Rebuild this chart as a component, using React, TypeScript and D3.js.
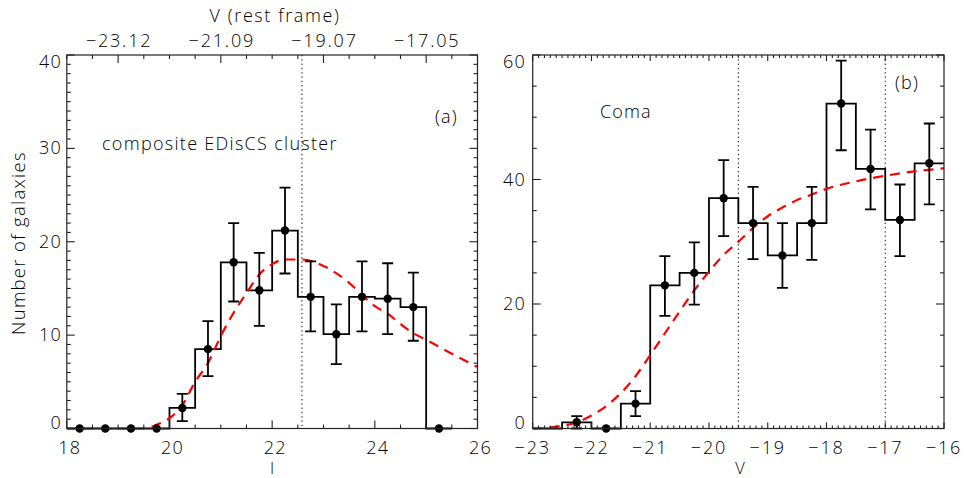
import React from "react";
import * as d3 from "d3";

// ---------- Panel (a): composite EDisCS cluster ----------
const binsA = [18.25, 18.75, 19.25, 19.75, 20.25, 20.75, 21.25, 21.75, 22.25, 22.75, 23.25, 23.75, 24.25, 24.75, 25.25];
const countsA = [0, 0, 0, 0, 2.2, 8.5, 17.8, 14.8, 21.2, 14.1, 10.1, 14.1, 13.9, 13.0, 0];
const errLoA = [0, 0, 0, 0, 0.8, 5.6, 13.6, 11.0, 16.6, 10.4, 6.9, 10.4, 10.1, 9.4, 0];
const errHiA = [0, 0, 0, 0, 3.7, 11.5, 22.0, 18.8, 25.8, 17.9, 13.3, 17.9, 17.7, 16.7, 0];
const fitXA = [18, 19.5, 19.75, 20.0, 20.25, 20.5, 20.75, 21.0, 21.25, 21.5, 21.75, 22.0, 22.25, 22.58, 23.0, 23.5, 23.75, 24.0, 24.25, 24.5, 24.75, 25.0, 25.5, 26.0];
const fitYA = [0, 0, 0.4, 1.1, 2.5, 5.0, 7.0, 9.9, 12.4, 14.5, 16.5, 17.6, 18.1, 18.1, 17.4, 15.6, 14.3, 13.1, 12.3, 11.2, 10.2, 9.5, 8.0, 6.6];
const xTicksA = [18, 20, 22, 24, 26];
const yTicksA = [0, 10, 20, 30, 40];
const topTickPosA = [19, 21, 23, 25];
const topTickLabelsA = ["\u221223.12", "\u221221.09", "\u221219.07", "\u221217.05"];
const vlineA = [22.58];

// ---------- Panel (b): Coma ----------
const binsB = [-22.75, -22.25, -21.75, -21.25, -20.75, -20.25, -19.75, -19.25, -18.75, -18.25, -17.75, -17.25, -16.75, -16.25];
const countsB = [0, 1.0, 0, 4.0, 23.0, 25.0, 37.0, 33.0, 27.8, 33.0, 52.2, 41.7, 33.5, 42.6];
const hasDotB = [false, true, true, true, true, true, true, true, true, true, true, true, true, true];
const errLoB = [0, 0, 0, 2.0, 18.1, 19.9, 30.9, 27.2, 22.6, 27.1, 44.7, 35.2, 27.7, 36.0];
const errHiB = [0, 2.0, 0, 6.0, 27.7, 29.9, 43.1, 38.8, 33.0, 38.8, 59.1, 48.0, 39.2, 49.0];
const fitXB = [-23, -22.6, -22.25, -22.0, -21.75, -21.5, -21.25, -21.0, -20.75, -20.5, -20.25, -20.0, -19.75, -19.5, -19.25, -19.0, -18.75, -18.5, -18.25, -18.0, -17.5, -17.0, -16.5, -16.0];
const fitYB = [0, 0.3, 1.0, 2.1, 3.6, 5.7, 8.4, 11.8, 15.3, 18.8, 22.2, 25.2, 27.9, 30.0, 32.2, 34.1, 35.5, 36.7, 37.6, 38.5, 39.7, 40.6, 41.3, 41.8];
const xTicksB = [-23, -22, -21, -20, -19, -18, -17, -16];
const yTicksB = [0, 20, 40, 60];
const vlineB = [-19.5, -17.0];

const FONT = "'Open Sans', 'DejaVu Sans', sans-serif";
const FW = 300;
const AX = "#222";

function stepPoints(centers: number[], vals: number[], w: number): [number, number][] {
  const pts: [number, number][] = [];
  centers.forEach((c, i) => {
    pts.push([c - w / 2, vals[i]]);
    pts.push([c + w / 2, vals[i]]);
  });
  return pts;
}

function range(a: number, b: number, s: number) {
  const out: number[] = [];
  const n = Math.round((b - a) / s);
  for (let i = 0; i <= n; i++) out.push(+(a + i * s).toFixed(6));
  return out;
}

export default function App() {
  const xA = d3.scaleLinear().domain([18, 26]).range([66.8, 477.5]);
  const yA = d3.scaleLinear().domain([0, 40]).range([428.5, 55]);
  const xB = d3.scaleLinear().domain([-23, -16]).range([532.7, 944]);
  const yB = d3.scaleLinear().domain([0, 60]).range([428.5, 55]);

  const lineA = d3.line<[number, number]>().x((d) => xA(d[0])).y((d) => yA(d[1]));
  const lineB = d3.line<[number, number]>().x((d) => xB(d[0])).y((d) => yB(d[1]));
  const fitLineA = d3.line<[number, number]>().x((d) => xA(d[0])).y((d) => yA(d[1])).curve(d3.curveMonotoneX);
  const fitLineB = d3.line<[number, number]>().x((d) => xB(d[0])).y((d) => yB(d[1])).curve(d3.curveMonotoneX);

  const histA = lineA(stepPoints(binsA, countsA, 0.5)) || "";
  const histB = lineB(stepPoints(binsB, countsB, 0.5)) || "";
  const fitA = fitLineA(fitXA.map((x, i) => [x, fitYA[i]] as [number, number])) || "";
  const fitB = fitLineB(fitXB.map((x, i) => [x, fitYB[i]] as [number, number])) || "";

  const tick = (x1: number, y1: number, x2: number, y2: number, k: string) => (
    <line key={k} x1={x1} y1={y1} x2={x2} y2={y2} stroke={AX} strokeWidth={1.1} />
  );

  const [a0, a1] = yA.range();
  const ticksA: React.ReactNode[] = [];
  range(18, 26, 0.5).forEach((v, i) => {
    const major = Math.abs(v % 2) < 1e-6;
    const L = major ? 8 : 4;
    ticksA.push(tick(xA(v), a0, xA(v), a0 - L, "ab" + i));
  });
  range(18, 26, 0.5).forEach((v, i) => {
    const major = topTickPosA.some((t) => Math.abs(t - v) < 1e-6);
    const L = major ? 8 : 4;
    ticksA.push(tick(xA(v), a1, xA(v), a1 + L, "at" + i));
  });
  range(0, 40, 1).forEach((v, i) => {
    const major = v % 10 === 0;
    const L = major ? 8 : 4;
    ticksA.push(tick(xA(18), yA(v), xA(18) + L, yA(v), "al" + i));
    ticksA.push(tick(xA(26), yA(v), xA(26) - L, yA(v), "ar" + i));
  });

  const ticksB: React.ReactNode[] = [];
  range(-23, -16, 0.1).forEach((v, i) => {
    const major = Math.abs(v - Math.round(v)) < 1e-6;
    const L = major ? 6 : 3;
    ticksB.push(tick(xB(v), a0, xB(v), a0 - L, "bb" + i));
    ticksB.push(tick(xB(v), a1, xB(v), a1 + L, "bt" + i));
  });
  range(0, 60, 5).forEach((v, i) => {
    const major = v % 20 === 0;
    const L = major ? 8 : 4;
    ticksB.push(tick(xB(-23), yB(v), xB(-23) + L, yB(v), "bl" + i));
    ticksB.push(tick(xB(-16), yB(v), xB(-16) - L, yB(v), "br" + i));
  });

  const labelOffsetY = (v: number, lo: number, hi: number) => (v === hi ? 13 : v === lo ? 0 : 6);

  const errBars = (
    xs: number[],
    lo: number[],
    hi: number[],
    xs2: (v: number) => number,
    ys2: (v: number) => number,
    pre: string
  ) =>
    xs.map((x, i) => {
      if (hi[i] <= 0) return null;
      const cx = xs2(x);
      return (
        <g key={pre + i} stroke="#000" strokeWidth={1.8}>
          <line x1={cx} x2={cx} y1={ys2(lo[i])} y2={ys2(hi[i])} />
          <line x1={cx - 5.5} x2={cx + 5.5} y1={ys2(lo[i])} y2={ys2(lo[i])} />
          <line x1={cx - 5.5} x2={cx + 5.5} y1={ys2(hi[i])} y2={ys2(hi[i])} />
        </g>
      );
    });

  const T = { fontWeight: FW, fill: "#000" } as const;
  const FS = 18;
  const LS = 1.2;

  return (
    <svg
      width={964}
      height={478}
      style={{ position: "absolute", left: 0, top: 0, background: "#fff" }}
      fontFamily={FONT}
    >
      <rect width={964} height={478} fill="#fff" />
      <defs>
        <clipPath id="clipA">
          <rect x={xA(18)} y={yA(40)} width={xA(26) - xA(18)} height={yA(0) - yA(40) + 6} />
        </clipPath>
        <clipPath id="clipB">
          <rect x={xB(-23)} y={yB(60)} width={xB(-16) - xB(-23)} height={yB(0) - yB(60) + 6} />
        </clipPath>
      </defs>

      {/* ================= Panel A ================= */}
      <g>
        {vlineA.map((v, i) => (
          <line key={"va" + i} x1={xA(v)} x2={xA(v)} y1={yA(40)} y2={yA(0)} stroke="#000" strokeWidth={1} strokeDasharray="1.3,3" />
        ))}
        <g clipPath="url(#clipA)">
          <path d={histA} fill="none" stroke="#000" strokeWidth={1.8} />
          <path d={fitA} fill="none" stroke="#ff0000" strokeWidth={2.2} strokeDasharray="10,7" />
          {errBars(binsA, errLoA, errHiA, xA, yA, "ea")}
          {binsA.map((b, i) => (
            <circle key={"da" + i} cx={xA(b)} cy={yA(countsA[i])} r={4.2} fill="#000" />
          ))}
        </g>
        {ticksA}
        <rect x={xA(18)} y={yA(40)} width={xA(26) - xA(18)} height={yA(0) - yA(40)} fill="none" stroke={AX} strokeWidth={1.2} />
        {xTicksA.map((v) => (
          <text key={"xla" + v} x={xA(v) + 3} y={454} fontSize={FS} textAnchor="middle" {...T} letterSpacing={LS}>
            {v}
          </text>
        ))}
        {yTicksA.map((v) => (
          <text key={"yla" + v} x={62} y={yA(v) + labelOffsetY(v, 0, 40)} fontSize={FS} textAnchor="end" {...T} letterSpacing={LS}>
            {v}
          </text>
        ))}
        {topTickPosA.map((v, i) => (
          <text key={"tla" + v} x={xA(v) + 1} y={47} fontSize={FS} textAnchor="middle" {...T} letterSpacing={1.8}>
            {topTickLabelsA[i]}
          </text>
        ))}
        <text x={275} y={22} fontSize={FS} textAnchor="middle" {...T} letterSpacing={1.6}>
          V (rest frame)
        </text>
        <text x={272} y={474} fontSize={16.5} textAnchor="middle" {...T}>
          I
        </text>
        <text transform="translate(25,243) rotate(-90)" fontSize={18.5} textAnchor="middle" {...T} letterSpacing={1.3}>
          Number of galaxies
        </text>
        <text x={102} y={150} fontSize={FS} {...T} letterSpacing={1.3}>
          composite EDisCS cluster
        </text>
        <text x={435} y={123} fontSize={FS} {...T} letterSpacing={LS}>
          (a)
        </text>
      </g>

      {/* ================= Panel B ================= */}
      <g>
        {vlineB.map((v, i) => (
          <line key={"vb" + i} x1={xB(v)} x2={xB(v)} y1={yB(60)} y2={yB(0)} stroke="#000" strokeWidth={1} strokeDasharray="1.3,3" />
        ))}
        <g clipPath="url(#clipB)">
          <path d={histB} fill="none" stroke="#000" strokeWidth={1.8} />
          <path d={fitB} fill="none" stroke="#ff0000" strokeWidth={2.2} strokeDasharray="10,7" />
          {errBars(binsB, errLoB, errHiB, xB, yB, "eb")}
          {binsB.map((b, i) =>
            hasDotB[i] ? <circle key={"db" + i} cx={xB(b)} cy={yB(countsB[i])} r={4.2} fill="#000" /> : null
          )}
        </g>
        {ticksB}
        <rect x={xB(-23)} y={yB(60)} width={xB(-16) - xB(-23)} height={yB(0) - yB(60)} fill="none" stroke={AX} strokeWidth={1.2} />
        {xTicksB.map((v) => (
          <text key={"xlb" + v} x={xB(v)} y={454} fontSize={FS} textAnchor="middle" {...T} letterSpacing={1.8}>
            {"\u2212" + Math.abs(v)}
          </text>
        ))}
        {yTicksB.map((v) => (
          <text key={"ylb" + v} x={526} y={yB(v) + labelOffsetY(v, 0, 60)} fontSize={FS} textAnchor="end" {...T} letterSpacing={LS}>
            {v}
          </text>
        ))}
        <text x={740} y={474} fontSize={16.5} textAnchor="middle" {...T}>
          V
        </text>
        <text x={600} y={118} fontSize={FS} {...T} letterSpacing={1.1}>
          Coma
        </text>
        <text x={895} y={89} fontSize={FS} {...T} letterSpacing={LS}>
          (b)
        </text>
      </g>
    </svg>
  );
}
